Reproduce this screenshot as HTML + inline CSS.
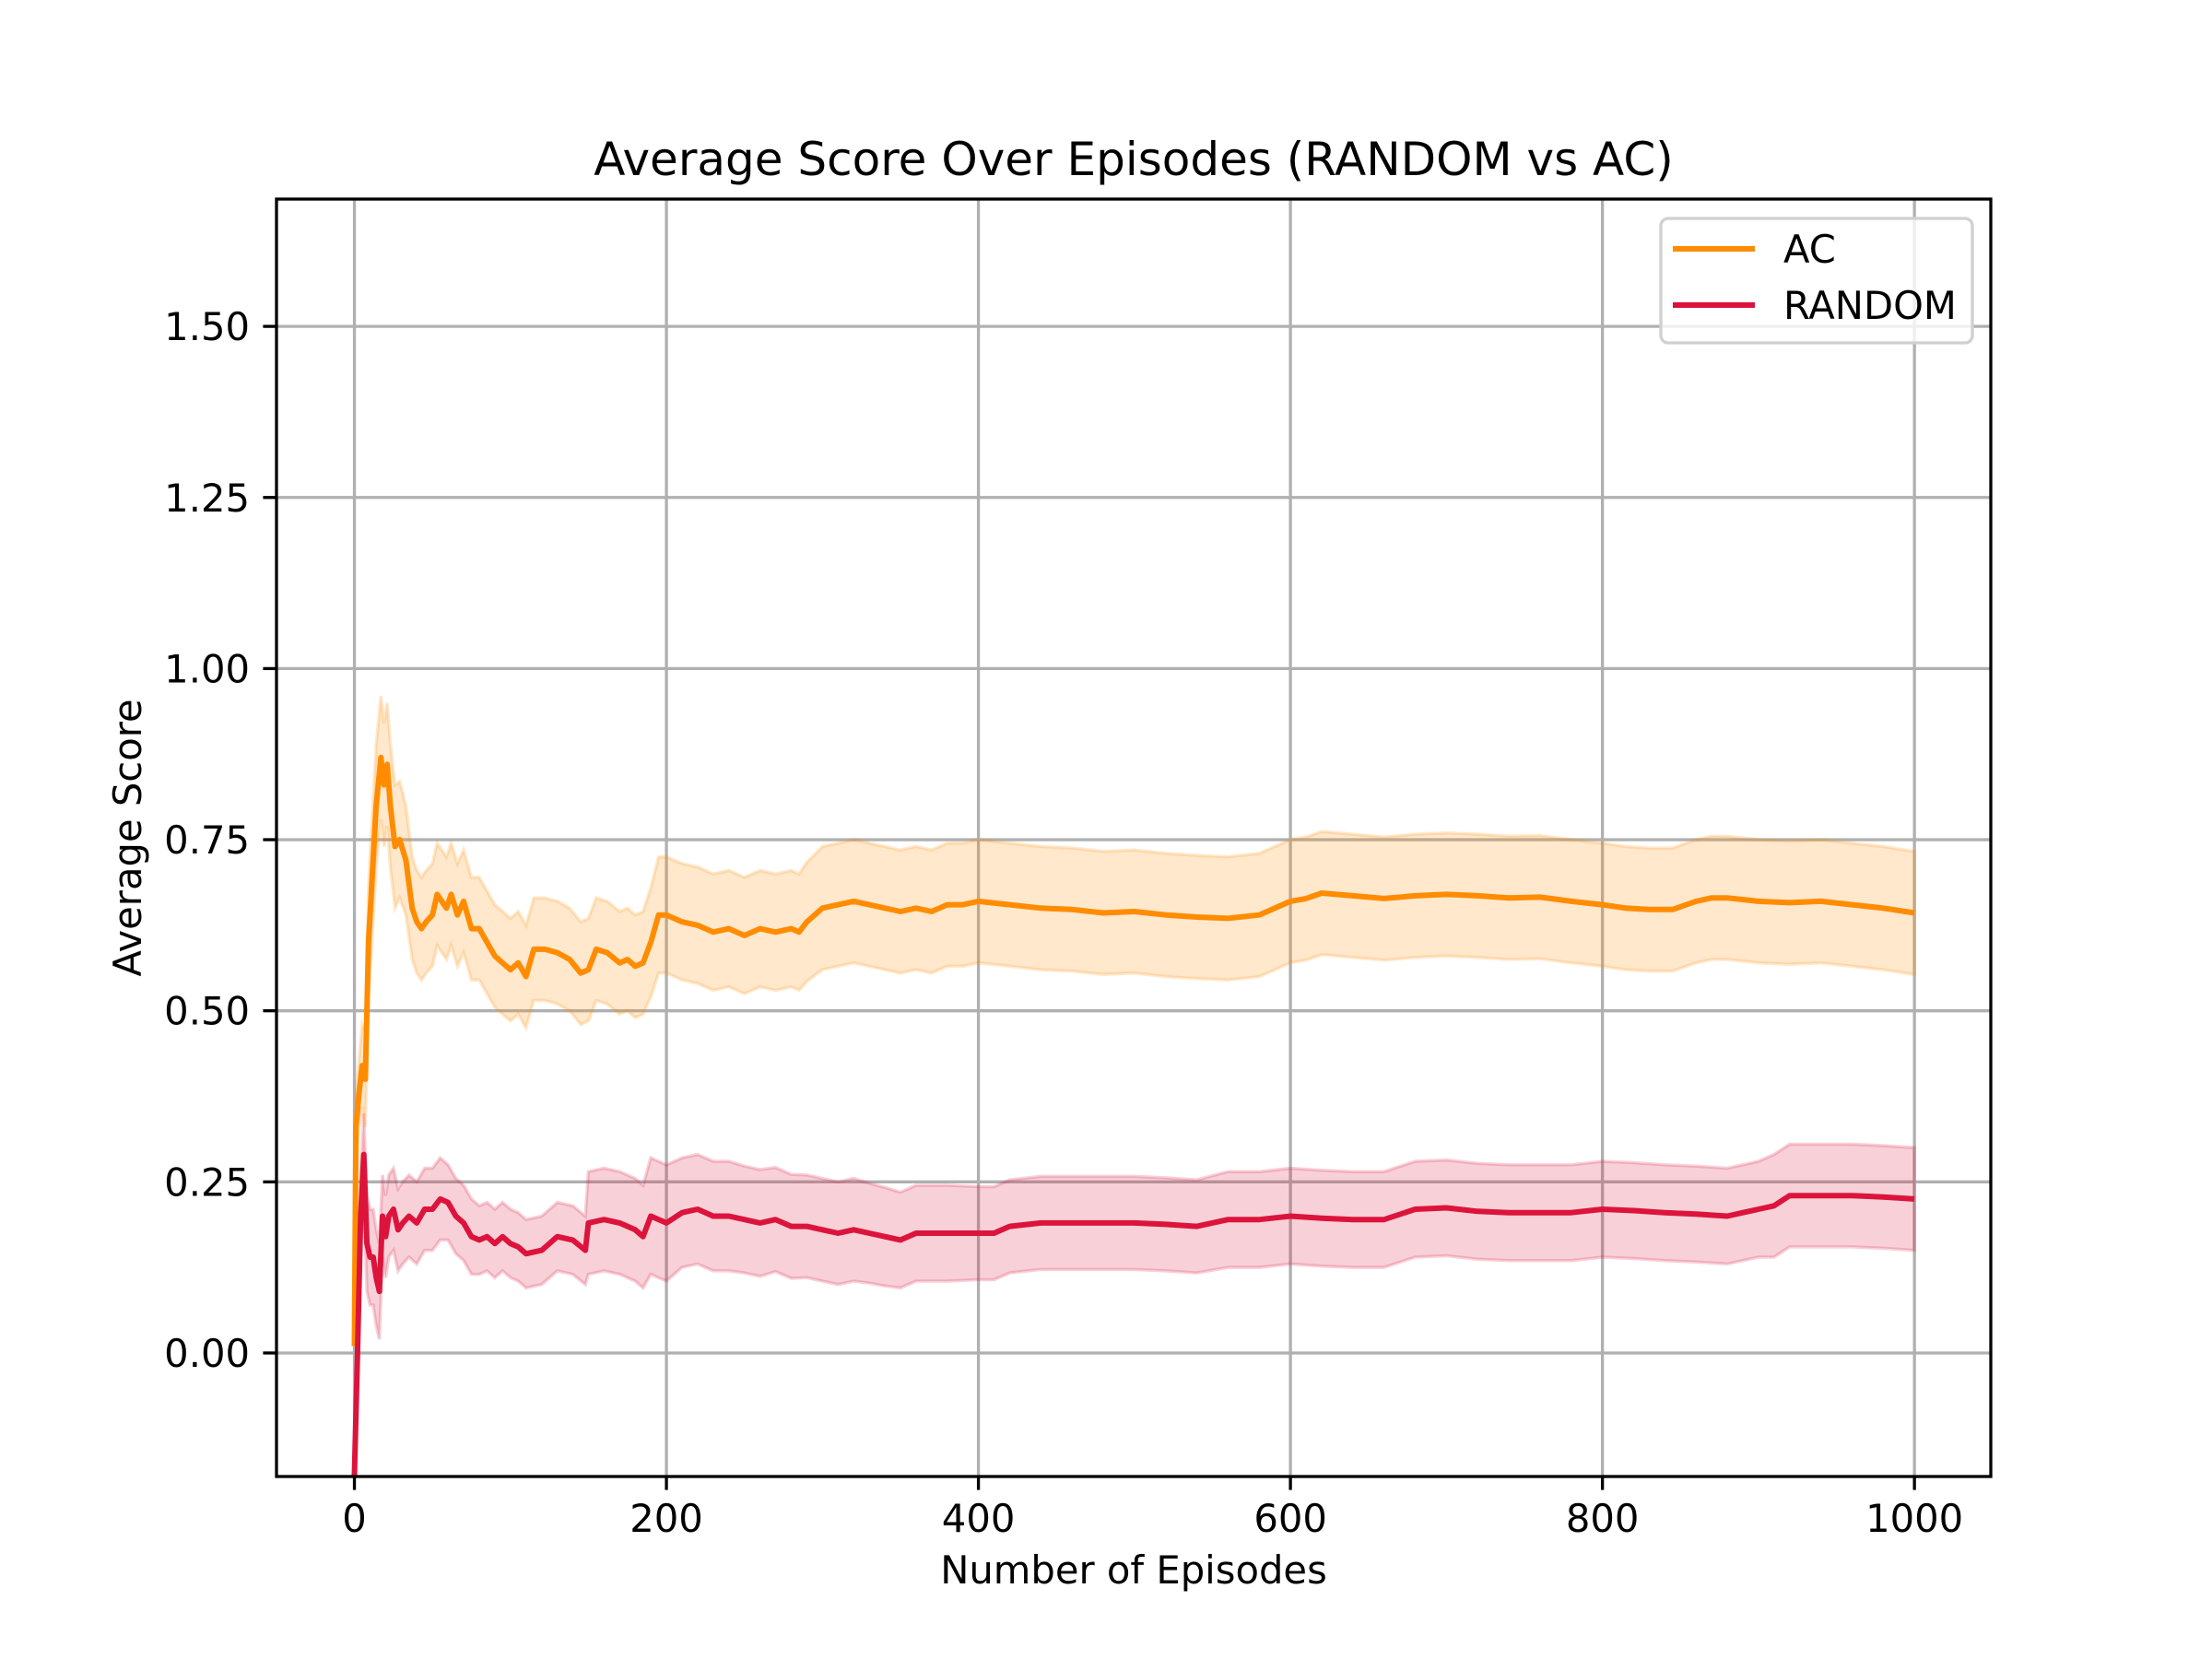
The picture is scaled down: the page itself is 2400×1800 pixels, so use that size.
<!DOCTYPE html>
<html><head><meta charset="utf-8"><style>
html,body{margin:0;padding:0;background:#fff;}
svg{display:block;font-family:"DejaVu Sans","Liberation Sans",sans-serif;}
</style></head><body>
<svg id="chart" width="2400" height="1800" viewBox="0 0 2400 1800">
<rect x="0" y="0" width="2400" height="1800" fill="#fff"/>
<g id="grid"></g>
<g id="bands"></g>
<g id="lines"></g>
<rect x="300" y="216" width="1860" height="1386" fill="none" stroke="#000" stroke-width="3.3"/>
<g id="ticks"></g>
<text x="1230" y="190" font-size="50" text-anchor="middle">Average Score Over Episodes (RANDOM vs AC)</text>
<text x="1230" y="1718" font-size="41.7" text-anchor="middle">Number of Episodes</text>
<text x="0" y="0" font-size="41.7" text-anchor="middle" transform="translate(153,909) rotate(-90)">Average Score</text>
<g>
<rect x="1802" y="237" width="338" height="135" rx="8" fill="#fff" fill-opacity="0.8" stroke="#d0d0d0" stroke-width="3.3"/>
<line x1="1815" y1="270" x2="1904" y2="270" stroke="#ff8c00" stroke-width="6"/>
<text x="1935" y="285" font-size="41.7">AC</text>
<line x1="1815" y1="331" x2="1904" y2="331" stroke="#dc143c" stroke-width="6"/>
<text x="1935" y="346" font-size="41.7">RANDOM</text>
</g>
</svg>
<script>
const xTicks=[0,200,400,600,800,1000];
const yTicks=[0,0.25,0.5,0.75,1.0,1.25,1.5];
const yTickLabels=["0.00","0.25","0.50","0.75","1.00","1.25","1.50"];
const acEpisodes=[0,1,3,5,7,9,11,14,17,19,21,23,26,29,33,37,40,43,46,50,53,56,59,62,66,70,75,80,85,90,95,100,105,110,115,122,130,138,145,150,155,162,170,175,180,185,190,195,200,210,220,230,240,250,260,270,280,285,290,300,310,320,330,340,350,360,370,380,390,400,420,440,460,480,500,520,540,560,580,600,610,620,640,660,680,700,720,740,760,780,800,815,830,845,860,870,880,900,920,940,960,980,1000];
const acMean=[0.01,0.33,0.38,0.42,0.4,0.6,0.68,0.8,0.87,0.83,0.86,0.8,0.74,0.75,0.72,0.65,0.63,0.62,0.63,0.64,0.67,0.66,0.65,0.67,0.64,0.66,0.62,0.62,0.6,0.58,0.57,0.56,0.57,0.55,0.59,0.59,0.585,0.575,0.555,0.56,0.59,0.585,0.57,0.575,0.565,0.57,0.6,0.64,0.64,0.63,0.625,0.615,0.62,0.61,0.62,0.615,0.62,0.615,0.63,0.65,0.655,0.66,0.655,0.65,0.645,0.65,0.645,0.655,0.655,0.66,0.655,0.65,0.648,0.643,0.645,0.64,0.637,0.635,0.64,0.66,0.664,0.672,0.668,0.664,0.668,0.67,0.668,0.665,0.666,0.66,0.655,0.65,0.648,0.648,0.66,0.665,0.665,0.66,0.658,0.66,0.655,0.65,0.643];
const acStd=[0.0,0.05,0.05,0.06,0.07,0.08,0.09,0.09,0.09,0.09,0.09,0.09,0.09,0.085,0.08,0.075,0.075,0.075,0.075,0.075,0.075,0.075,0.075,0.075,0.075,0.075,0.075,0.075,0.075,0.075,0.075,0.075,0.075,0.075,0.075,0.075,0.075,0.075,0.075,0.075,0.075,0.075,0.075,0.075,0.075,0.075,0.08,0.085,0.085,0.085,0.085,0.085,0.085,0.085,0.085,0.085,0.085,0.085,0.087,0.09,0.09,0.09,0.09,0.09,0.09,0.09,0.09,0.09,0.09,0.09,0.09,0.09,0.09,0.09,0.09,0.09,0.09,0.09,0.09,0.09,0.09,0.09,0.09,0.09,0.09,0.09,0.09,0.09,0.09,0.09,0.09,0.09,0.09,0.09,0.09,0.09,0.09,0.09,0.09,0.09,0.09,0.09,0.09];
const rndEpisodes=[0,2,4,6,8,10,12,14,16,18,20,22,25,28,31,35,40,45,50,55,60,65,70,75,80,85,90,95,100,105,110,120,130,140,148,150,160,170,180,185,190,200,210,220,230,240,250,260,270,280,290,300,310,320,330,340,350,360,370,380,400,410,420,440,460,480,500,520,540,560,580,600,620,640,660,680,700,720,740,760,780,800,820,840,860,880,890,900,910,920,940,960,980,1000];
const rndMean=[-0.18,0.0,0.2,0.29,0.16,0.14,0.14,0.11,0.09,0.2,0.17,0.2,0.21,0.18,0.19,0.2,0.19,0.21,0.21,0.225,0.22,0.2,0.19,0.17,0.165,0.17,0.16,0.17,0.16,0.155,0.145,0.15,0.17,0.165,0.15,0.19,0.195,0.19,0.18,0.17,0.2,0.19,0.205,0.21,0.2,0.2,0.195,0.19,0.195,0.185,0.185,0.18,0.175,0.18,0.175,0.17,0.165,0.175,0.175,0.175,0.175,0.175,0.185,0.19,0.19,0.19,0.19,0.188,0.185,0.195,0.195,0.2,0.197,0.195,0.195,0.21,0.212,0.207,0.205,0.205,0.205,0.21,0.208,0.205,0.203,0.2,0.205,0.21,0.215,0.23,0.23,0.23,0.228,0.225];
const rndStd=[0.0,0.03,0.05,0.06,0.07,0.07,0.07,0.07,0.07,0.06,0.06,0.06,0.06,0.06,0.06,0.06,0.06,0.06,0.06,0.06,0.055,0.055,0.055,0.055,0.05,0.05,0.05,0.05,0.05,0.05,0.05,0.05,0.05,0.05,0.05,0.075,0.075,0.075,0.075,0.075,0.085,0.085,0.08,0.08,0.08,0.08,0.078,0.078,0.076,0.076,0.075,0.075,0.075,0.075,0.073,0.072,0.07,0.07,0.07,0.07,0.068,0.068,0.068,0.068,0.068,0.068,0.068,0.068,0.068,0.07,0.07,0.07,0.07,0.07,0.07,0.07,0.07,0.07,0.07,0.07,0.07,0.07,0.07,0.07,0.07,0.07,0.07,0.07,0.075,0.075,0.075,0.075,0.075,0.075];

const NS='http://www.w3.org/2000/svg';
const L=300,R=2160,T=216,B=1602,XMIN=-49.95,XMAX=1048.95,YMIN=-0.1805,YMAX=1.686;
function xs(v){return L+(v-XMIN)/(XMAX-XMIN)*(R-L);}
function ys(v){return B-(v-YMIN)/(YMAX-YMIN)*(B-T);}
function mk(tag,attrs,parent){const e=document.createElementNS(NS,tag);for(const k in attrs)e.setAttribute(k,attrs[k]);parent.appendChild(e);return e;}
const grid=document.getElementById('grid'),ticks=document.getElementById('ticks'),bands=document.getElementById('bands'),lines=document.getElementById('lines');
xTicks.forEach(t=>{
  const x=xs(t);
  const g=mk('line',{x1:x,x2:x,y1:T,y2:B,stroke:'#b0b0b0','stroke-width':3.3},grid);
  
  
  const tk=mk('line',{x1:x,x2:x,y1:B,y2:B+14.6,stroke:'#000','stroke-width':3.3},ticks);
  
  
  const tx=mk('text',{x:x,y:B+60,'font-size':41.7,'text-anchor':'middle'},ticks);
  tx.textContent=String(t);
  
  
});
yTicks.forEach((t,i)=>{
  const y=ys(t);
  const g=mk('line',{x1:L,x2:R,y1:y,y2:y,stroke:'#b0b0b0','stroke-width':3.3},grid);
  
  
  const tk=mk('line',{x1:L-14.6,x2:L,y1:y,y2:y,stroke:'#000','stroke-width':3.3},ticks);
  
  
  const tx=mk('text',{x:L-29,y:y+15,'font-size':41.7,'text-anchor':'end'},ticks);
  tx.textContent=yTickLabels[i];
  
  
});
function band(eps,mean,std,fill,edge,name){
  const up=eps.map((e,i)=>xs(e).toFixed(1)+','+ys(mean[i]+std[i]).toFixed(1));
  const lo=eps.map((e,i)=>xs(e).toFixed(1)+','+ys(mean[i]-std[i]).toFixed(1)).reverse();
  const p=mk('polygon',{points:up.concat(lo).join(' '),fill:fill,'fill-opacity':0.2,stroke:edge,'stroke-opacity':0.2,'stroke-width':3.5},bands);
  
  
}
function line(eps,mean,color,name){
  const pts=eps.map((e,i)=>xs(e).toFixed(1)+','+ys(mean[i]).toFixed(1)).join(' ');
  const p=mk('polyline',{points:pts,fill:'none',stroke:color,'stroke-width':6,'stroke-linejoin':'round'},lines);
  
  
}
band(acEpisodes,acMean,acStd,'#ff8c00','#ff8c00','ac-band');
band(rndEpisodes,rndMean,rndStd,'#dc143c','#dc143c','random-band');
line(acEpisodes,acMean,'#ff8c00','ac-line');
line(rndEpisodes,rndMean,'#dc143c','random-line');
</script>
</body></html>
